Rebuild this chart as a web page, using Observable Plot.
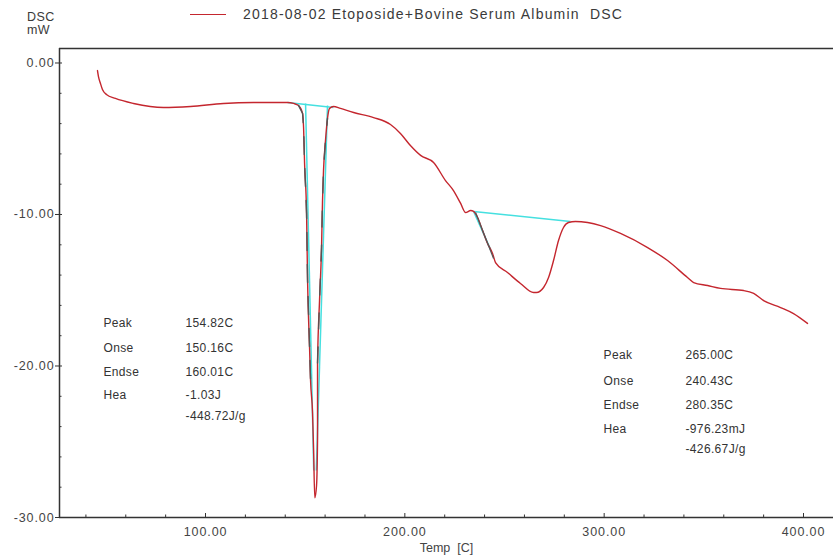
<!DOCTYPE html>
<html><head><meta charset="utf-8">
<script src="https://cdn.jsdelivr.net/npm/d3@7"></script>
<script src="https://cdn.jsdelivr.net/npm/@observablehq/plot@0.6"></script>
<style>
body{margin:0;background:#fff;}
#wrap{position:relative;width:833px;height:560px;font-family:"Liberation Sans",Arial,sans-serif;color:#3a3a3a;}
#ylab{position:absolute;left:27px;top:11px;font-size:12.5px;line-height:13px;letter-spacing:0.4px;}
#legend{position:absolute;left:190px;top:6px;font-size:14px;white-space:pre;letter-spacing:1.2px;display:flex;align-items:center;}
#legend .sw{display:inline-block;width:36px;height:0;border-top:1.5px solid #c4262e;margin-right:17px;}
#chart g[aria-label="x-axis tick label"] text,
#chart g[aria-label="y-axis tick label"] text{letter-spacing:0.9px;}
#chart g.results text{letter-spacing:0.35px;}
</style></head><body>
<div id="wrap">
 <div id="chart"></div>
 <div id="ylab">DSC<br>mW</div>
 <div id="legend"><span class="sw"></span><span>2018-08-02 Etoposide+Bovine Serum Albumin  DSC</span></div>
</div>
<script>
// ---- data ----
const temp = [45.8,46.3,47.3,48.3,50.3,54.8,63.9,78.9,92.5,109,124.1,139.1,141.1,144.2,146.7,148.7,149.2,149.7,150.7,151.2,152.2,152.7,153.7,154.2,154.82,155.7,156.2,156.2,157.2,158.2,158.7,159.2,160.2,161.2,162.2,164.2,167.7,174.3,184.3,192.8,197.8,202.8,207.9,214.4,220.4,224.4,228,230.5,233,234.5,236.5,239,241.5,244,245.5,251.5,258,264.6,266,269.6,272.1,274.6,277.1,279.6,282.1,285.6,291.7,298.2,308.2,321.8,331.8,341.8,344.9,351.9,358.4,370,375,380,388.5,395,402];
const dsc = [-0.5,-0.9,-1.35,-1.75,-2.08,-2.34,-2.67,-2.94,-2.87,-2.67,-2.61,-2.61,-2.61,-2.67,-2.81,-3.33,-4.26,-6.63,-9.93,-14.36,-18.8,-20.96,-23.1,-25.4,-28.7,-27.9,-24.9,-19.8,-15.7,-12.2,-9.1,-7.1,-5.1,-3.66,-3.0,-2.87,-3.0,-3.27,-3.6,-4.06,-4.65,-5.45,-6.1,-6.57,-7.76,-8.42,-9.27,-9.87,-9.74,-9.8,-10.2,-11.06,-11.91,-12.57,-13.17,-13.83,-14.55,-15.15,-15.15,-14.82,-14.16,-13.04,-11.72,-10.86,-10.53,-10.46,-10.53,-10.73,-11.25,-12.18,-13.04,-14.16,-14.49,-14.69,-14.88,-15.02,-15.21,-15.68,-16.14,-16.54,-17.19];

// analysis lines (baselines / tangents): x1, y1, x2, y2
const cyanX1 = [141.1, 150.2, 161.2, 234.5, 234.5];
const cyanY1 = [-2.61, -2.67, -2.8, -9.8, -9.8];
const cyanX2 = [164.2, 154.3, 155.6, 283.1, 243.0];
const cyanY2 = [-2.94, -26.9, -26.9, -10.46, -12.3];
const greyX1 = [235.5];
const greyY1 = [-9.87];
const greyX2 = [244.5];
const greyY2 = [-12.9];

// axis ticks
const xMajor = [100, 200, 300, 400];
const xMinor = [40, 60, 80, 120, 140, 160, 180, 220, 240, 260, 280, 320, 340, 360, 380];
const yMajor = [0, -10, -20, -30];
const yMinor = [-2,-4,-6,-8,-12,-14,-16,-18,-22,-24,-26,-28];
const xDomain = [26.75, 415.05];
const yDomain = [-30, 0.957];

// peak results text
const leftLabels = ["Peak", "Onse", "Endse", "Hea"];
const leftValues = ["154.82C", "150.16C", "160.01C", "-1.03J", "-448.72J/g"];
const rightLabels = ["Peak", "Onse", "Endse", "Hea"];
const rightValues = ["265.00C", "240.43C", "280.35C", "-976.23mJ", "-426.67J/g"];
const leftRowsY = [-17.2, -18.8, -20.4, -21.9, -23.3];
const rightRowsY = [-19.3, -21.0, -22.6, -24.2, -25.5];
const leftLabelX = 48.8, leftValueX = 90;
const rightLabelX = 299.7, rightValueX = 340.8;

// ---- build ----
const curve = temp.map((t, i) => ({t, v: dsc[i]}));
const cyan = cyanX1.map((x, i) => ({x1: x, y1: cyanY1[i], x2: cyanX2[i], y2: cyanY2[i]}));
const grey = greyX1.map((x, i) => ({x1: x, y1: greyY1[i], x2: greyX2[i], y2: greyY2[i]}));
const peak1L = curve.filter(d => d.t >= 146.7 && d.t <= 152.7);
const peak1R = curve.filter((d, i) => i >= 27 && d.t <= 161.2);
const txt = [];
leftLabels.forEach((s, i) => txt.push({x: leftLabelX, y: leftRowsY[i], s}));
leftValues.forEach((s, i) => txt.push({x: leftValueX, y: leftRowsY[i], s}));
rightLabels.forEach((s, i) => txt.push({x: rightLabelX, y: rightRowsY[i], s}));
rightValues.forEach((s, i) => txt.push({x: rightValueX, y: rightRowsY[i], s}));

const W = 833, H = 560, mL = 59, mR = 0, mT = 48, mB = 43;
const fW = W - mL - mR, fH = H - mT - mB;

const chart = Plot.plot({
  width: W, height: H,
  marginLeft: mL, marginRight: mR, marginTop: mT, marginBottom: mB,
  style: {fontFamily: "Liberation Sans, Arial, sans-serif", color: "#3a3a3a", background: "#fff", overflow: "visible"},
  x: {domain: xDomain},
  y: {domain: yDomain},
  marks: [
    // frame lines
    Plot.ruleY([yDomain[1]], {stroke: "#333", strokeWidth: 1.6}),
    Plot.ruleY([yDomain[0]], {stroke: "#333", strokeWidth: 1.5}),
    Plot.ruleX([xDomain[0]], {stroke: "#333", strokeWidth: 1.5}),
    // ticks (inside)
    Plot.tickX(xMinor, {x: d => d, insetTop: fH - 2.5, stroke: "#333"}),
    Plot.tickY(yMinor, {y: d => d, insetRight: fW - 2.5, stroke: "#333"}),
    Plot.tickX(xMajor, {x: d => d, insetTop: fH - 4, stroke: "#333"}),
    Plot.tickY(yMajor, {y: d => d, insetRight: fW - 3, stroke: "#333"}),
    // axes
    Plot.axisX({ticks: xMajor, tickFormat: d => d.toFixed(2), tickSize: 0, tickPadding: 10, fontSize: 12.5, label: null, fill: "#444"}),
    Plot.axisY({ticks: yMajor, tickFormat: d => d.toFixed(2), tickSize: 4, tickPadding: 1, fontSize: 12.5, label: null, fill: "#444", stroke: "#333"}),
    Plot.text(["Temp\u00a0\u00a0[C]"], {frameAnchor: "bottom", dy: 34, fontSize: 12.5, fill: "#444"}),
    // analysis lines
    Plot.link(cyan, {x1: "x1", y1: "y1", x2: "x2", y2: "y2", stroke: "#45e0e0", strokeWidth: 1.5}),
    // curve
    Plot.line(curve, {x: "t", y: "v", stroke: "#c4262e", strokeWidth: 1.4, curve: "monotone-x"}),
    Plot.line(peak1L, {x: "t", y: "v", stroke: "#555", strokeWidth: 1.4, strokeDasharray: "18,14"}),
    Plot.line(peak1R, {x: "t", y: "v", stroke: "#555", strokeWidth: 1.4, strokeDasharray: "16,18"}),
    Plot.link(grey, {x1: "x1", y1: "y1", x2: "x2", y2: "y2", stroke: "#555", strokeWidth: 1.2}),
    // results text
    Plot.text(txt, {x: "x", y: "y", text: "s", textAnchor: "start", fontSize: 12, fill: "#333", className: "results"})
  ]
});
document.getElementById("chart").appendChild(chart);
</script>
</body></html>
